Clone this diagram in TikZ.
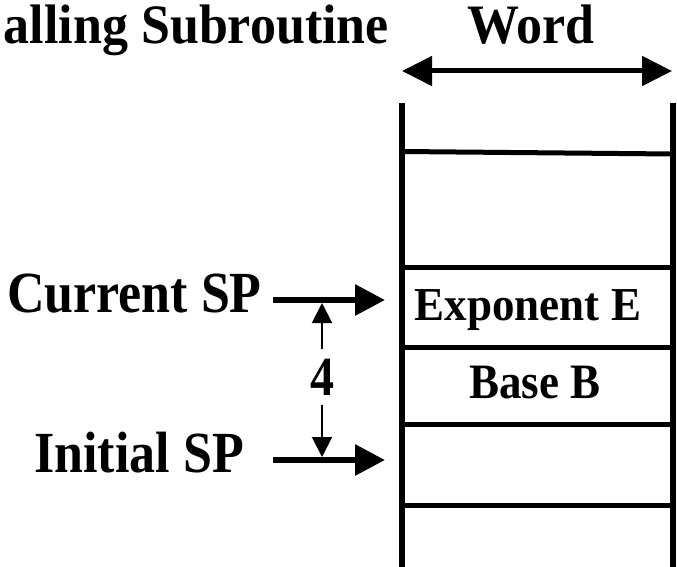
\documentclass[tikz,border=0pt]{standalone}
\usepackage{fontspec}
\setmainfont{Liberation Serif}
\usetikzlibrary{arrows.meta}
\begin{document}
\begin{tikzpicture}[x=1pt,y=-1pt,
  lbl/.style={font=\bfseries\fontsize{52}{56}\selectfont, inner sep=0pt, anchor=base east},
  head/.style={lbl, text height=38pt, text depth=0pt},
  cell/.style={font=\bfseries\fontsize{45}{50}\selectfont, inner sep=0pt, anchor=base},
  wall/.style={line width=5.5pt},
  sep/.style={line width=5pt},
  widtharrow/.style={line width=5pt, {Triangle[length=30pt,width=29pt]}-{Triangle[length=30pt,width=29pt]}},
  sparrow/.style={line width=6pt, -{Triangle[length=30pt,width=30pt]}},
  gaparrow/.style={line width=2pt, -{Triangle[length=20pt,width=20pt]}}
]
\useasboundingbox (0,0) rectangle (677,567);
\clip (0,0) rectangle (677,567);

% headings
\node[head] (title) at (389,44) {\scalebox{1}[1.07]{alling Subroutine}};
\node[head, anchor=base] (word) at (531,44) {\scalebox{1}[1.07]{Word}};

% width of one stack word
\coordinate (wl) at (402,71);
\coordinate (wr) at (672,71);
\draw[widtharrow] (wl) -- (wr);

% stack walls
\coordinate (lt) at (402,103);
\coordinate (lb) at (402,567);
\coordinate (rt) at (673,103);
\coordinate (rb) at (673,567);
\draw[wall] (lt) -- (lb);
\draw[wall] (rt) -- (rb);

% word boundaries
\draw[sep] (402,151.5) -- (673,154);
\foreach \y in {267,347,424,505}
  \draw[sep] (402,\y) -- (673,\y);

% stack contents
\node[cell] (expo) at (528,320) {\scalebox{1}[1.05]{Exponent E}};
\node[cell] (base) at (535,398) {\scalebox{1}[1.1]{Base B}};

% stack pointers
\node[lbl] (cur) at (262,312) {\scalebox{1}[1.12]{Current SP}};
\node[lbl] (init) at (244,472) {\scalebox{1}[1.12]{Initial SP}};
\coordinate (cs) at (273,300);
\coordinate (ce) at (385,300);
\coordinate (is) at (273,460);
\coordinate (ie) at (385,460);
\draw[sparrow] (cs) -- (ce);
\draw[sparrow] (is) -- (ie);

% distance between the pointers
\node[font=\bfseries\fontsize{48}{50}\selectfont, inner sep=0pt, outer ysep=10pt, anchor=base] (four) at (322,395) {\scalebox{1}[1.15]{4}};
\coordinate (gt) at (322,303);
\coordinate (gb) at (322,457);
\draw[gaparrow] (four.north) -- (gt);
\draw[gaparrow] (four.south) -- (gb);
\end{tikzpicture}
\end{document}
